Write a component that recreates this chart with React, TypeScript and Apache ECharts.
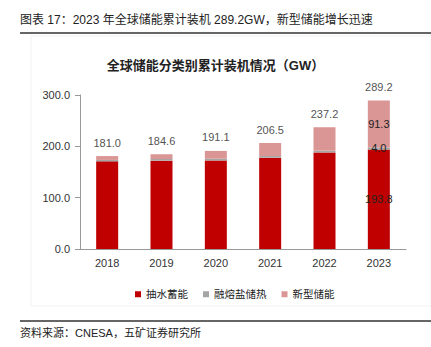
import React, { useEffect, useRef } from "react";
import * as echarts from "echarts";

const years = ["2018", "2019", "2020", "2021", "2022", "2023"];
const pumpedHydro = [170.7, 172.1, 172.5, 178.0, 188.1, 193.8];
const moltenSalt = [2.8, 3.2, 3.4, 3.1, 3.4, 4.0];
const newType = [7.5, 9.3, 15.2, 25.4, 45.7, 91.3];
const totals = [181.0, 184.6, 191.1, 206.5, 237.2, 289.2];
const seriesNames = ["抽水蓄能", "融熔盐储热", "新型储能"];

const FONT = "'Liberation Sans', 'Noto Sans CJK SC', sans-serif";

export default function App() {
  const ref = useRef<HTMLDivElement>(null);
  useEffect(() => {
    const chart = echarts.init(ref.current!, undefined, { renderer: "svg" });
    const lastOnly = (arr: number[]) =>
      arr.map((v, i) =>
        i === arr.length - 1
          ? { value: v, label: { show: true, position: "inside", formatter: v.toFixed(1), color: "#222", fontSize: 11, fontFamily: FONT } }
          : v
      );
    chart.setOption({
      animation: false,
      backgroundColor: "#fff",
      textStyle: { fontFamily: FONT },
      graphic: [
        { type: "text", left: 20, top: 14, style: { text: "图表 17：2023 年全球储能累计装机 289.2GW，新型储能增长迅速", fontSize: 12, fill: "#222", fontFamily: FONT } },
        { type: "line", shape: { x1: 20, y1: 33, x2: 431, y2: 33 }, style: { stroke: "#333", lineWidth: 1.5 } },
        { type: "rect", shape: { x: 31, y: 36, width: 400, height: 270 }, style: { fill: "none", stroke: "#f2f2f2", lineWidth: 1 } },
        { type: "text", left: "center", top: 59, style: { text: "全球储能分类别累计装机情况（GW）", fontSize: 13, fontWeight: "bold", fill: "#222", fontFamily: FONT } },
        { type: "line", shape: { x1: 20, y1: 321, x2: 431, y2: 321 }, style: { stroke: "#333", lineWidth: 1.5 } },
        { type: "text", left: 20, top: 327, style: { text: "资料来源：CNESA，五矿证券研究所", fontSize: 11, fill: "#222", fontFamily: FONT } },
      ],
      grid: { left: 80, right: 25, top: 95, bottom: 98 },
      legend: {
        data: seriesNames,
        top: 284,
        left: 130,
        icon: "rect",
        itemWidth: 6,
        itemHeight: 6,
        itemGap: 15,
        textStyle: { fontSize: 10.5, color: "#222", fontFamily: FONT },
      },
      xAxis: {
        type: "category",
        data: years,
        axisLine: { lineStyle: { color: "#999" } },
        axisTick: { lineStyle: { color: "#999" } },
        axisLabel: { color: "#333", fontSize: 11, margin: 8 },
      },
      yAxis: {
        type: "value",
        min: 0,
        max: 300,
        interval: 100,
        axisLine: { show: true, lineStyle: { color: "#999" } },
        axisTick: { show: true, lineStyle: { color: "#999" } },
        splitLine: { show: false },
        axisLabel: { color: "#333", fontSize: 11, margin: 10, formatter: (v: number) => v.toFixed(1) },
      },
      series: [
        { name: seriesNames[0], type: "bar", stack: "t", barWidth: 22, itemStyle: { color: "#C00000" }, data: lastOnly(pumpedHydro) },
        { name: seriesNames[1], type: "bar", stack: "t", itemStyle: { color: "#A5A5A5" }, data: lastOnly(moltenSalt) },
        { name: seriesNames[2], type: "bar", stack: "t", itemStyle: { color: "#DA9694" }, data: lastOnly(newType) },
        {
          name: "total",
          type: "scatter",
          symbolSize: 0,
          data: totals,
          silent: true,
          label: { show: true, position: "top", distance: 8, color: "#222", fontSize: 11, formatter: (p: any) => Number(p.value).toFixed(1) },
        },
      ],
    });
    return () => chart.dispose();
  }, []);
  return <div ref={ref} style={{ position: "fixed", left: 0, top: 0, width: 431, height: 347 }} />;
}
